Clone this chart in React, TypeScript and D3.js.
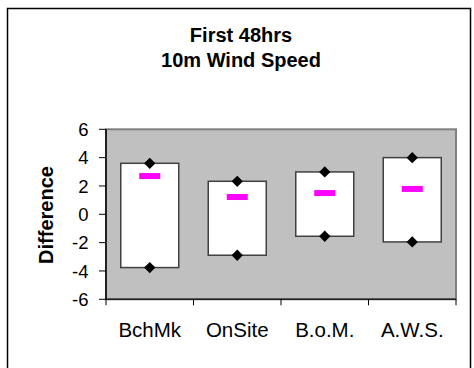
import React from "react";
import * as d3 from "d3";

// Floating range bars: min..max per source, with diamonds at the ends and a mean marker
const categories = ["BchMk", "OnSite", "B.o.M.", "A.W.S."];
const maxValues = [3.6, 2.33, 2.99, 4.0];
const minValues = [-3.76, -2.89, -1.55, -1.95];
const meanValues = [2.7, 1.22, 1.5, 1.79];
const yTicks = [-6, -4, -2, 0, 2, 4, 6];
const titleLines = ["First 48hrs", "10m Wind Speed"];
const yLabel = "Difference";

const W = 474;
const H = 368;
const plot = { left: 106, right: 456, top: 129.3, bottom: 299.3 };
const font = "'Liberation Sans', Arial, sans-serif";

export default function App() {
  const x = d3
    .scaleBand<string>()
    .domain(categories)
    .range([plot.left, plot.right])
    .paddingInner(0)
    .paddingOuter(0);
  const y = d3.scaleLinear().domain([-6, 6]).range([plot.bottom, plot.top]);

  const boxW = 58;
  // square marker turned 45° gives an even diamond
  const diamond = d3.symbol().type(d3.symbolSquare).size(64);
  const rows = categories.map((c, i) => ({
    c,
    cx: (x(c) as number) + x.bandwidth() / 2,
    hi: maxValues[i],
    lo: minValues[i],
    mean: meanValues[i],
  }));

  return (
    <div style={{ position: "fixed", left: 0, top: 0 }}>
      <svg width={W} height={H} style={{ display: "block", background: "#fff" }}>
        {/* outer chart frame */}
        <rect x={7.5} y={8.5} width={463} height={380} fill="none" stroke="#000" strokeWidth={1.5} />

        {/* title */}
        <text x={241} y={42} textAnchor="middle" fontFamily={font} fontWeight="bold" fontSize={20} fill="#000">
          {titleLines[0]}
        </text>
        <text x={241} y={66.5} textAnchor="middle" fontFamily={font} fontWeight="bold" fontSize={20} fill="#000">
          {titleLines[1]}
        </text>

        {/* plot area */}
        <rect
          x={plot.left}
          y={plot.top}
          width={plot.right - plot.left}
          height={plot.bottom - plot.top}
          fill="#C0C0C0"
          stroke="#808080"
          strokeWidth={2}
        />

        {/* range boxes */}
        {rows.map((r) => (
          <g key={r.c}>
            <rect
              x={r.cx - boxW / 2}
              y={y(r.hi)}
              width={boxW}
              height={y(r.lo) - y(r.hi)}
              fill="#fff"
              stroke="#404040"
              strokeWidth={1.5}
            />
            <path d={diamond() as string} transform={`translate(${r.cx},${y(r.hi)}) rotate(45)`} fill="#000" />
            <path d={diamond() as string} transform={`translate(${r.cx},${y(r.lo)}) rotate(45)`} fill="#000" />
            <rect x={r.cx - 10.5} y={y(r.mean) - 3} width={21} height={6} fill="#FF00FF" />
          </g>
        ))}

        {/* y axis */}
        <line x1={plot.left} x2={plot.left} y1={plot.top} y2={plot.bottom} stroke="#000" strokeWidth={1.5} />
        {yTicks.map((t) => (
          <g key={t}>
            <line x1={plot.left - 7} x2={plot.left} y1={y(t)} y2={y(t)} stroke="#000" strokeWidth={1} />
            <text
              x={88.5}
              y={y(t)}
              dy="0.36em"
              textAnchor="end"
              fontFamily={font}
              fontSize={18.5}
              fill="#000"
            >
              {t}
            </text>
          </g>
        ))}
        <text
          transform={`translate(53,215) rotate(-90)`}
          textAnchor="middle"
          fontFamily={font}
          fontWeight="bold"
          fontSize={20}
          fill="#000"
        >
          {yLabel}
        </text>

        {/* x axis */}
        <line x1={plot.left} x2={plot.right} y1={plot.bottom} y2={plot.bottom} stroke="#202020" strokeWidth={1.5} />
        {[...categories.map((c) => x(c) as number), plot.right].map((v, i) => (
          <line key={i} x1={v} x2={v} y1={plot.bottom} y2={plot.bottom + 6} stroke="#000" strokeWidth={1} />
        ))}
        {rows.map((r) => (
          <text key={r.c} x={r.cx} y={337} textAnchor="middle" fontFamily={font} fontSize={20.5} fill="#000">
            {r.c}
          </text>
        ))}
      </svg>
    </div>
  );
}
